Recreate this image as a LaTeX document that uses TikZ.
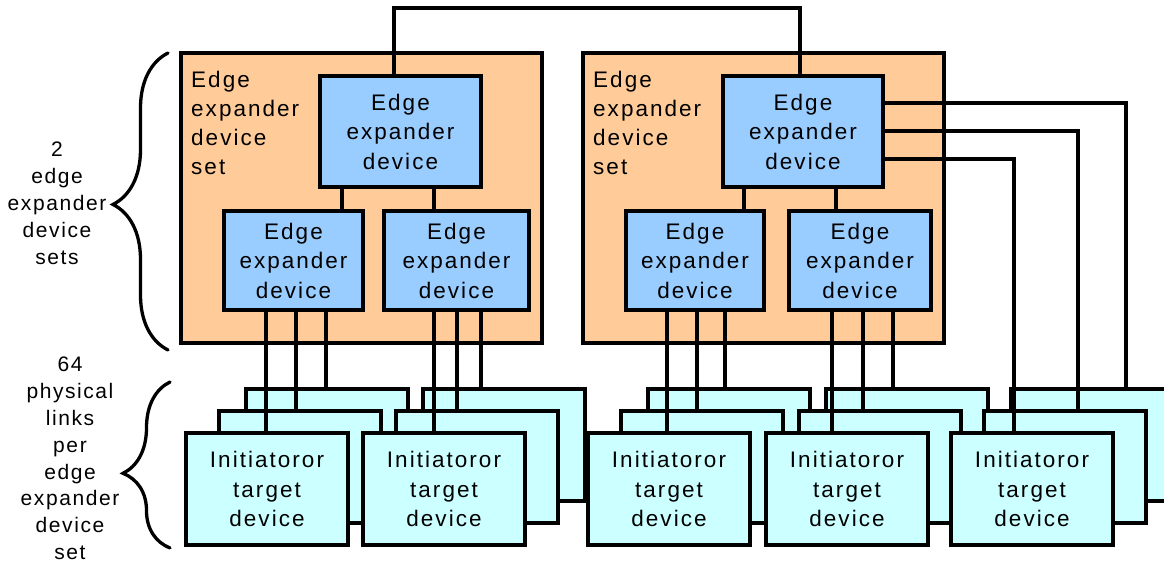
\documentclass[tikz,border=0pt]{standalone}
\usepackage{fontspec}
\newfontfamily\boxfont{Liberation Sans}[LetterSpace=9]
\newfontfamily\lblfont{Liberation Sans}[LetterSpace=7.5]
\usetikzlibrary{decorations.pathreplacing}

\definecolor{setfill}{HTML}{FFCC99}
\definecolor{expfill}{HTML}{99CCFF}
\definecolor{tgtfill}{HTML}{CCFFFF}

\tikzset{
  boxline/.style={draw=black, line width=3.3pt, inner sep=0pt, outer sep=0pt},
  setbox/.style={boxline, fill=setfill, anchor=north west},
  expbox/.style={boxline, fill=expfill, anchor=north west, align=center,
    font=\boxfont\fontsize{22.5}{29.5}\selectfont},
  tgtbox/.style={boxline, fill=tgtfill, anchor=north west, align=center,
    minimum width=162pt, minimum height=112pt,
    font=\boxfont\fontsize{22.5}{29.5}\selectfont},
  settext/.style={anchor=north west, align=left, inner sep=0pt,
    font=\boxfont\fontsize{22.5}{29}\selectfont},
  sidetext/.style={anchor=north, align=center, inner sep=0pt,
    font=\lblfont\fontsize{21}{26.8}\selectfont},
  link/.style={draw=black, line width=3.3pt},
  sidebrace/.style={draw=black, line width=3.3pt, line cap=round, decorate}
}

\begin{document}
\begin{tikzpicture}[x=1pt, y=-1pt]
\useasboundingbox (0,0) rectangle (1164,564);
\clip (0,0) rectangle (1164,564);

% two edge expander device sets
\node[setbox, minimum width=361pt, minimum height=290pt] (O1) at (181,53) {};
\node[setbox, minimum width=361pt, minimum height=290pt] (O2) at (583,53) {};
\node[settext] (O1t) at (191,71) {Edge\\expander\\device\\set};
\node[settext] (O2t) at (593,71) {Edge\\expander\\device\\set};

% edge expander devices
\node[expbox, minimum width=161pt, minimum height=111pt] (E1) at (320,76) {Edge\\expander\\device};
\node[expbox, minimum width=160pt, minimum height=111pt] (E2) at (723,76) {Edge\\expander\\device};
\node[expbox, minimum width=139pt, minimum height=99pt] (A1) at (224,211) {Edge\\expander\\device};
\node[expbox, minimum width=145pt, minimum height=99pt] (B1) at (384,211) {Edge\\expander\\device};
\node[expbox, minimum width=138pt, minimum height=99pt] (A2) at (626,211) {Edge\\expander\\device};
\node[expbox, minimum width=142pt, minimum height=99pt] (B2) at (789,211) {Edge\\expander\\device};

% links inside each set and between the sets
\draw[link] (E1.south -| 342,0) -- (A1.north -| 342,0);
\draw[link] (E1.south -| 434,0) -- (B1.north -| 434,0);
\draw[link] (E2.south -| 744,0) -- (A2.north -| 744,0);
\draw[link] (E2.south -| 836,0) -- (B2.north -| 836,0);
\draw[link] (E1.north -| 394,0) -- (394,8) -- (800,8) -- (E2.north -| 800,0);

% stacks of initiator or target devices
\foreach \n/\x in {1/186, 2/363, 3/588, 4/766, 5/951} {
  \node[tgtbox] (b\n) at (\x+60,389) {};
  \node[tgtbox] (m\n) at (\x+33,411) {};
  \node[tgtbox] (f\n) at (\x,433) {Initiatoror\\target\\device};
}

% physical links to the devices
\draw[link] (A1.south -| 266,0) -- (f1.north -| 266,0);
\draw[link] (A1.south -| 296,0) -- (m1.north -| 296,0);
\draw[link] (A1.south -| 326,0) -- (b1.north -| 326,0);
\draw[link] (B1.south -| 434,0) -- (f2.north -| 434,0);
\draw[link] (B1.south -| 457,0) -- (m2.north -| 457,0);
\draw[link] (B1.south -| 481,0) -- (b2.north -| 481,0);
\draw[link] (A2.south -| 667,0) -- (f3.north -| 667,0);
\draw[link] (A2.south -| 697,0) -- (m3.north -| 697,0);
\draw[link] (A2.south -| 725,0) -- (b3.north -| 725,0);
\draw[link] (B2.south -| 832,0) -- (f4.north -| 832,0);
\draw[link] (B2.south -| 863,0) -- (m4.north -| 863,0);
\draw[link] (B2.south -| 893,0) -- (b4.north -| 893,0);
\draw[link] (E2.east |- 0,159) -| (f5.north -| 1014,0);
\draw[link] (E2.east |- 0,131) -| (m5.north -| 1078,0);
\draw[link] (E2.east |- 0,103) -| (b5.north -| 1126,0);

% side labels with braces
\coordinate (br1a) at (168,350);
\coordinate (br1b) at (168,53);
\coordinate (br2a) at (170,548);
\coordinate (br2b) at (170,382);
\draw[sidebrace, decoration={brace, amplitude=55pt, aspect=0.49}] (br1a) -- (br1b);
\draw[sidebrace, decoration={brace, amplitude=47pt, aspect=0.45}] (br2a) -- (br2b);
\node[sidetext] (L1) at (57,142) {2\\edge\\expander\\device\\sets};
\node[sidetext] (L2) at (70,357) {64\\physical\\links\\per\\edge\\expander\\device\\set};
\end{tikzpicture}
\end{document}
